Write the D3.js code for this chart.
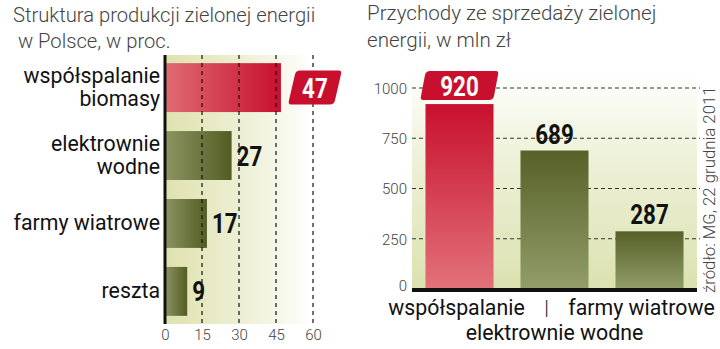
<!DOCTYPE html>
<html><head><meta charset="utf-8">
<script src="https://cdn.jsdelivr.net/npm/d3@7"></script>
<style>
body{margin:0;background:#fff;}
svg{display:block;}
</style></head>
<body>
<svg id="c" width="720" height="349"></svg>
<script>
// Left chart data
const shareCats = [["współspalanie","biomasy"],["elektrownie","wodne"],["farmy wiatrowe"],["reszta"]];
const shareVals = [47, 27, 17, 9];
const shareTicks = [0, 15, 30, 45, 60];
// Right chart data
const revCats = ["współspalanie", "elektrownie wodne", "farmy wiatrowe"];
const revVals = [920, 689, 287];
const revTicks = [0, 250, 500, 750, 1000];
const titleLeft = ["Struktura produkcji zielonej energii", " w Polsce, w proc."];
const titleRight = ["Przychody ze sprzedaży zielonej", "energii, w mln zł"];
const source = "źródło: MG, 22 grudnia 2011";

const svg = d3.select("#c");
const defs = svg.append("defs");
function grad(id, x1,y1,x2,y2, stops){
  const g = defs.append("linearGradient").attr("id",id)
    .attr("x1",x1).attr("y1",y1).attr("x2",x2).attr("y2",y2);
  stops.forEach(s=>g.append("stop").attr("offset",s[0]).attr("stop-color",s[1]));
}
grad("bgL","0","0","1","0",[[0,"#dfe2ae"],[0.55,"#eef0d6"],[1,"#ffffff"]]);
grad("bgR","0","1","0","0",[[0,"#dce1b0"],[0.6,"#eef1d8"],[1,"#ffffff"]]);
grad("redH","0","0","1","0",[[0,"#df6b72"],[1,"#c8102e"]]);
grad("oliveH","0","0","1","0",[[0,"#8c9463"],[1,"#535d22"]]);
grad("redV","0","0","0","1",[[0,"#c8102e"],[1,"#e2727a"]]);
grad("oliveV","0","0","0","1",[[0,"#566027"],[1,"#939d6a"]]);

const titleFont = "Roboto, 'Open Sans', sans-serif";
const numFont = "Roboto, sans-serif";

function num(g, xx, yy, v, anchor, color){
  g.append("text").attr("transform",`translate(${xx},${yy}) scale(0.8,1)`)
    .attr("text-anchor",anchor).attr("font-family",numFont).attr("font-weight",700)
    .attr("font-size",28).attr("fill",color).text(v);
}

// ---------- Left chart ----------
const x = d3.scaleLinear().domain([0, 60]).range([165, 313]);
const yb = d3.scaleBand().domain(d3.range(shareVals.length)).range([55, 324]).paddingInner(0.28).paddingOuter(0.12);
const L = svg.append("g");
L.append("rect").attr("x", x(0)).attr("y", 55).attr("width", x(60)-x(0)).attr("height", 269).attr("fill","url(#bgL)");

titleLeft.forEach((t,i)=>L.append("text").attr("x",13).attr("y",22+i*26).text(t)
  .attr("font-family",titleFont).attr("font-weight",300).attr("font-size",20.2).attr("fill","#444").style("white-space","pre"));

L.selectAll("rect.bar").data(shareVals).join("rect").attr("class","bar")
  .attr("x", x(0)).attr("y",(d,i)=>yb(i)).attr("width",d=>x(d)-x(0)).attr("height",yb.bandwidth())
  .attr("fill",(d,i)=>i===0?"url(#redH)":"url(#oliveH)");

// grid
L.selectAll("line.grid").data(shareTicks.slice(1)).join("line").attr("class","grid")
  .attr("x1",d=>x(d)).attr("x2",d=>x(d)).attr("y1",55).attr("y2",324)
  .attr("stroke","#111").attr("stroke-width",1.2).attr("stroke-dasharray","4,4");
L.append("line").attr("x1",x(0)).attr("x2",x(0)).attr("y1",55).attr("y2",324).attr("stroke","#111").attr("stroke-width",3);

// axis labels
const ax = d3.axisBottom(x).tickValues(shareTicks).tickSize(0).tickPadding(0);
const axg = L.append("g").attr("transform","translate(0,329)").call(ax);
axg.select(".domain").remove();
axg.selectAll("text").attr("font-family",titleFont).attr("font-weight",300).attr("font-size",15).attr("fill","#444").attr("dy","0.71em");

// category labels
shareCats.forEach((lines,i)=>{
  const cy = yb(i)+yb.bandwidth()/2;
  const n = lines.length;
  lines.forEach((ln,j)=>{
    L.append("text").attr("x",160).attr("y",cy + (j-(n-1)/2)*23 + 7).attr("text-anchor","end")
      .attr("font-family",titleFont).attr("font-size",21.3).attr("fill","#111").text(ln);
  });
});

// value labels
shareVals.forEach((v,i)=>{
  const cy = yb(i)+yb.bandwidth()/2;
  if(i===0){
    const bx = x(v)+8, bw=52, bh=34, by=cy-bh/2;
    L.append("path").attr("d",`M${bx+6},${by+4} Q${bx+7},${by} ${bx+11},${by} L${bx+bw-2},${by} Q${bx+bw+1},${by} ${bx+bw},${by+4} L${bx+bw-6},${by+bh-4} Q${bx+bw-7},${by+bh} ${bx+bw-11},${by+bh} L${bx+2},${by+bh} Q${bx-1},${by+bh} ${bx},${by+bh-4} Z`)
      .attr("fill","#c8102e");
    num(L, bx+bw/2, cy+10, v, "middle", "#fff");
  } else {
    num(L, x(v)+5, cy+10, v, "start", "#111");
  }
});

// ---------- Right chart ----------
const y = d3.scaleLinear().domain([0, 1000]).range([289, 88]);
const xb = d3.scaleBand().domain(revCats).range([412, 697]).paddingInner(0.284).paddingOuter(0.142);
const R = svg.append("g");
R.append("rect").attr("x",412).attr("y",72).attr("width",285).attr("height",289-72).attr("fill","url(#bgR)");

titleRight.forEach((t,i)=>R.append("text").attr("x",367).attr("y",20+i*27).text(t)
  .attr("font-family",titleFont).attr("font-weight",300).attr("font-size",20.6).attr("fill","#444"));

R.selectAll("line.grid").data(revTicks.slice(1)).join("line").attr("class","grid")
  .attr("x1",412).attr("x2",700).attr("y1",d=>y(d)).attr("y2",d=>y(d))
  .attr("stroke","#333").attr("stroke-width",1.2).attr("stroke-dasharray","4,3");

R.selectAll("rect.bar").data(revVals).join("rect").attr("class","bar")
  .attr("x",(d,i)=>xb(revCats[i])).attr("y",d=>y(d)).attr("width",xb.bandwidth()).attr("height",d=>y(0)-y(d))
  .attr("fill",(d,i)=>i===0?"url(#redV)":"url(#oliveV)");

R.append("line").attr("x1",412).attr("x2",697).attr("y1",y(0)+1).attr("y2",y(0)+1).attr("stroke","#111").attr("stroke-width",4);

const ay = d3.axisLeft(y).tickValues(revTicks).tickFormat(d3.format("d")).tickSize(0).tickPadding(0);
const ayg = R.append("g").attr("transform","translate(407,0)").call(ay);
ayg.select(".domain").remove();
ayg.selectAll("text").attr("font-family",titleFont).attr("font-weight",300).attr("font-size",15).attr("fill","#444")
  .attr("dy",d=>d===0?"0.12em":"0.35em");

revVals.forEach((v,i)=>{
  const cx = xb(revCats[i]) + xb.bandwidth()/2;
  if(i===0){
    const bw=77, bh=29, bx=cx-bw/2, by=y(v)-33;
    R.append("path").attr("d",`M${bx+4},${by+4} Q${bx+5},${by} ${bx+9},${by} L${bx+bw-2},${by} Q${bx+bw+1},${by} ${bx+bw},${by+4} L${bx+bw-4},${by+bh-4} Q${bx+bw-5},${by+bh} ${bx+bw-9},${by+bh} L${bx+2},${by+bh} Q${bx-1},${by+bh} ${bx},${by+bh-4} Z`)
      .attr("fill","#c8102e");
    num(R, cx, by+bh/2+10, v, "middle", "#fff");
  } else {
    num(R, cx, y(v)-7, v, "middle", "#111");
  }
});

// x labels
const xl = [ {c:0, dy:0, sh:-3}, {c:1, dy:25, sh:0}, {c:2, dy:0, sh:-8} ];
xl.forEach(o=>{
  const cx = xb(revCats[o.c]) + xb.bandwidth()/2 + o.sh;
  R.append("text").attr("x",cx).attr("y",315+o.dy).attr("text-anchor","middle")
    .attr("font-family",titleFont).attr("font-size",21.3).attr("fill","#111").text(revCats[o.c]);
});
R.append("text").attr("x",xb(revCats[1])+xb.bandwidth()/2-8).attr("y",315).attr("text-anchor","middle")
  .attr("font-family",titleFont).attr("font-weight",300).attr("font-size",21).attr("fill","#111").text("|");

R.append("text").attr("transform","translate(715,293) rotate(-90)")
  .attr("font-family",titleFont).attr("font-weight",300).attr("font-size",16.8).attr("fill","#444").text(source);
</script>
</body></html>
